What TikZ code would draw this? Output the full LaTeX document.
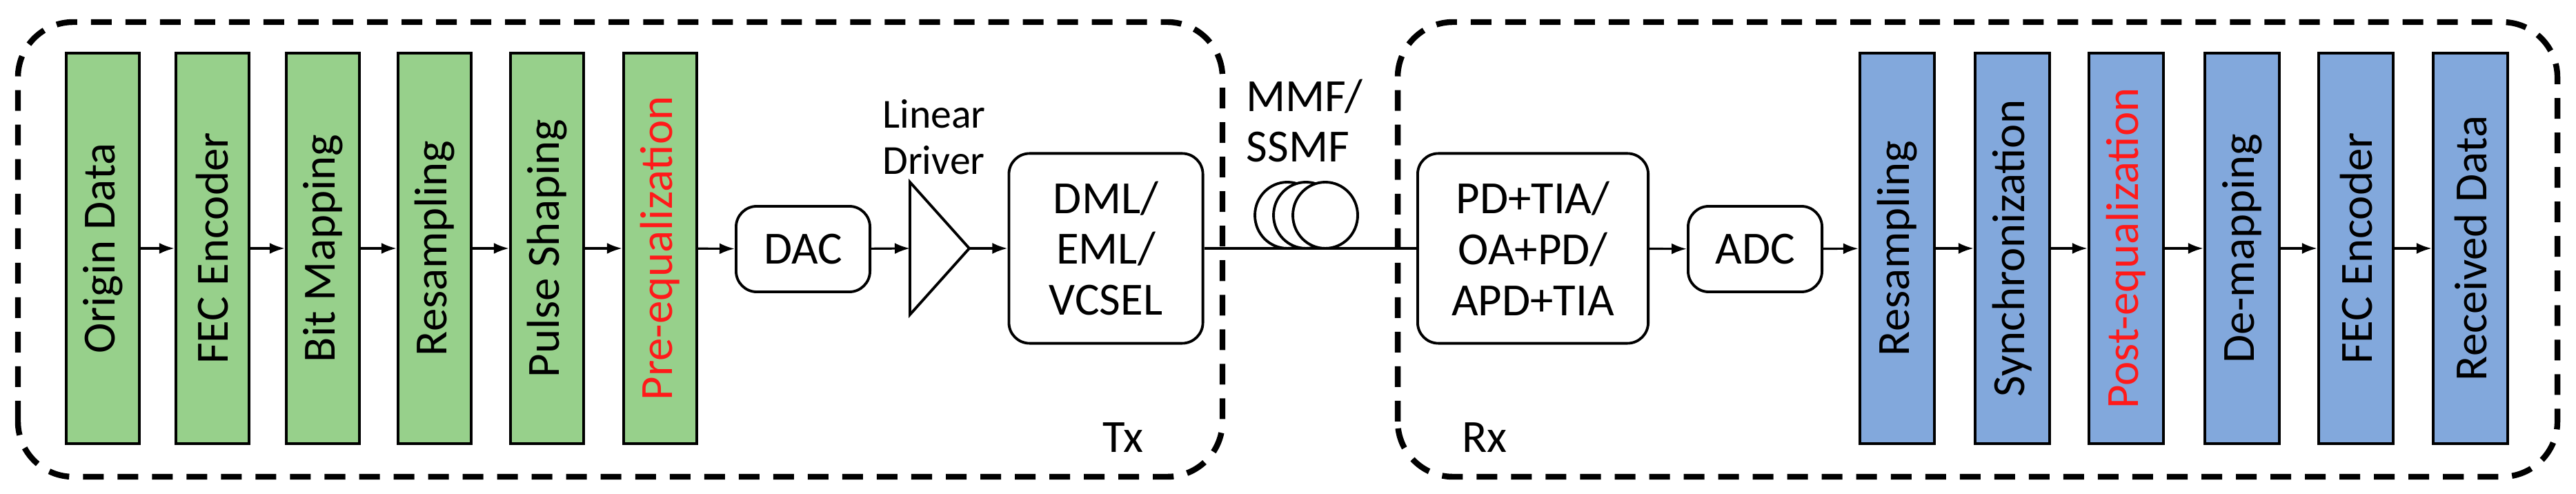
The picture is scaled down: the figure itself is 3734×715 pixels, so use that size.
\documentclass[tikz,border=0pt]{standalone}
\usepackage{fontspec}
\setmainfont{Carlito}
\usetikzlibrary{positioning}
\usetikzlibrary{arrows.meta}
\definecolor{stageGreen}{HTML}{97D08B}
\definecolor{stageBlue}{HTML}{82A8DC}
\definecolor{eqRed}{HTML}{FF1A1A}

\begin{document}
\begin{tikzpicture}[x=0.01cm,y=0.01cm,
        stage/.style={draw,line width=1.2pt,minimum width=1.06cm,minimum height=5.65cm,inner sep=0pt,font=\fontsize{19}{22}\selectfont},
        dev/.style={draw,line width=1.1pt,rounded corners=0.3cm,align=center,inner sep=0pt,font=\fontsize{19}{21}\selectfont},
        flow/.style={line width=0.9pt,-{Latex[length=0.22cm,width=0.16cm]}},
        side/.style={line width=2.4pt,dash pattern=on 0.3cm off 0.2cm,rounded corners=0.8cm}]
    \useasboundingbox (0,0) rectangle (3734,715);

    % transmitter and receiver frames
    \draw[side] (26,24) rectangle (1772,683);
    \draw[side] (2026,24) rectangle (3707,683);
    \node[font=\fontsize{19}{22}\selectfont] (tx) at (1628,81) {Tx};
    \node[font=\fontsize{19}{22}\selectfont] (rx) at (2152,81) {Rx};

    % transmitter DSP
    \foreach \name/\x/\txt in {g1/149/{Origin Data}, g2/308/{FEC Encoder}, g3/468/{Bit Mapping},
                               g4/630/{Resampling}, g5/793/{Pulse Shaping}, g6/957/{\color{eqRed}Pre-equalization}}
        \node[stage,fill=stageGreen] (\name) at (\x,355) {\rotatebox{90}{\txt}};
    \foreach \a/\b in {g1/g2, g2/g3, g3/g4, g4/g5, g5/g6}
        \draw[flow] (\a) -- (\b);

    \node[dev,minimum width=1.94cm,minimum height=1.24cm] (dac) at (1164,354) {DAC};
    \coordinate (ampIn) at (1319,355);
    \coordinate (ampOut) at (1405,355);
    \draw[line width=1.1pt] (1319,451) -- (ampOut) -- (1319,259) -- cycle;
    \node[font=\fontsize{17}{19}\selectfont,align=left] (drv) at (1354,516) {Linear\\Driver};
    \node[dev,minimum width=2.81cm,minimum height=2.75cm] (laser) at (1603,355) {DML/\\EML/\\VCSEL};
    \draw[flow] (g6) -- (dac);
    \draw[flow] (dac) -- (ampIn);
    \draw[flow] (ampOut) -- (laser);

    % fiber spool
    \foreach \cx in {1866,1893,1921}
        \draw[line width=1.1pt,fill=white] (\cx,403) ellipse (47 and 48);
    \node[font=\fontsize{19}{21}\selectfont,align=left] (fib) at (1891,540) {MMF/\\SSMF};

    % receiver
    \node[dev,minimum width=3.34cm,minimum height=2.75cm] (pd) at (2222,355) {PD+TIA/\\OA+PD/\\APD+TIA};
    \draw[line width=1.1pt] (laser) -- (pd);
    \node[dev,minimum width=1.94cm,minimum height=1.24cm] (adc) at (2544,354) {ADC};
    \draw[flow] (pd) -- (adc);

    % receiver DSP
    \foreach \name/\x/\txt in {b1/2750/{Resampling}, b2/2917/{Synchronization}, b3/3082/{\color{eqRed}Post-equalization},
                               b4/3250/{De-mapping}, b5/3415/{FEC Encoder}, b6/3581/{Received Data}}
        \node[stage,fill=stageBlue,minimum width=1.08cm] (\name) at (\x,355) {\rotatebox{90}{\txt}};
    \draw[flow] (adc) -- (b1);
    \foreach \a/\b in {b1/b2, b2/b3, b3/b4, b4/b5, b5/b6}
        \draw[flow] (\a) -- (\b);
\end{tikzpicture}
\end{document}
